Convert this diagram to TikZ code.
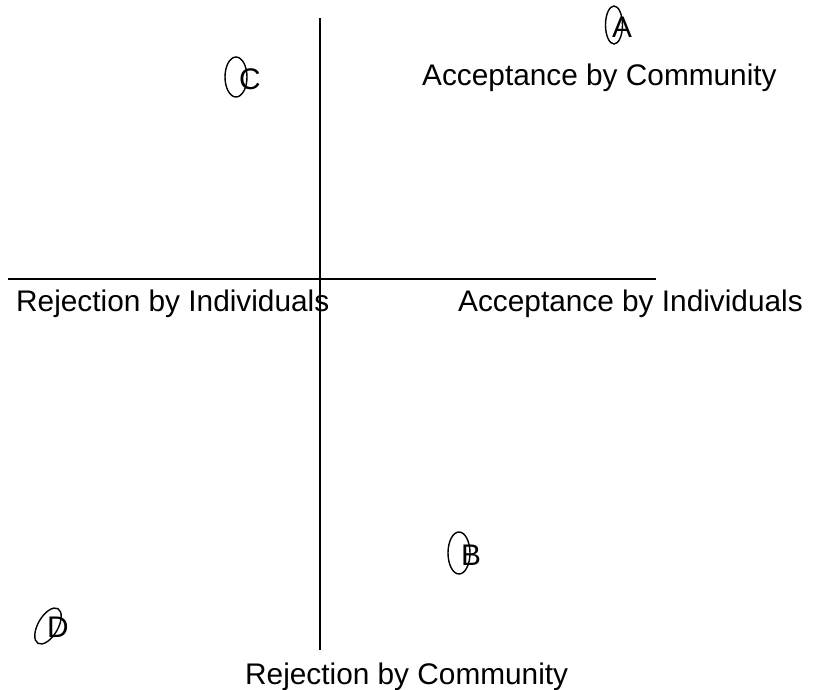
\documentclass[tikz,border=0pt]{standalone}
\usepackage{fontspec}
\setmainfont{Liberation Sans}
\begin{document}
\begin{tikzpicture}[x=1pt,y=-1pt,
  lbl/.style={anchor=base west,inner sep=0pt,font=\fontsize{29.8}{35}\selectfont},
  axis/.style={line width=1.8pt,black},
  ring/.style={line width=1.4pt}]
\useasboundingbox (0,0) rectangle (817,689);
\coordinate (vt) at (320,18);
\coordinate (vb) at (320,650);
\coordinate (hl) at (8,279);
\coordinate (hr) at (656,279);
\draw[axis] (vt) -- (vb);
\draw[axis] (hl) -- (hr);
\node[lbl] (ac) at (422,85) {Acceptance by Community};
\node[lbl] (ri) at (16,311) {Rejection by Individuals};
\node[lbl] (ai) at (458,311) {Acceptance by Individuals};
\node[lbl] (rc) at (245,684) {Rejection by Community};
% A
\draw[ring] (614,25) ellipse [x radius=8.5, y radius=19];
\node[lbl] (la) at (612,37) {A};
% C
\draw[ring] (236,77) ellipse [x radius=11, y radius=20];
\node[lbl] (lc) at (239,89) {C};
% B
\draw[ring] (459,553) ellipse [x radius=11, y radius=21];
\node[lbl] (lb) at (461,565) {B};
% D
\draw[ring,rotate around={-30:(48,626)}] (48,626) ellipse [x radius=10, y radius=20];
\node[lbl] (ld) at (47,637) {D};
\end{tikzpicture}
\end{document}
